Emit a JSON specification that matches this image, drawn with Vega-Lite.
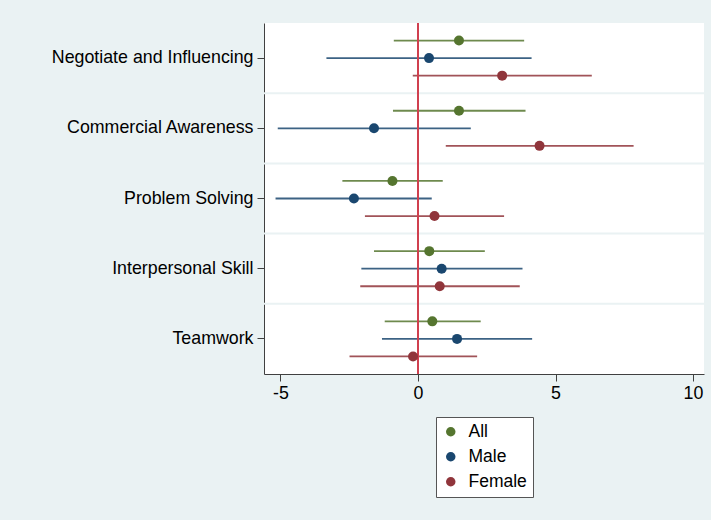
{
  "$schema": "https://vega.github.io/schema/vega-lite/v6.json",
  "autosize": {"type": "none"},
  "padding": {"left": 264, "top": 23, "right": 7, "bottom": 146},
  "width": 440,
  "height": 351,
  "background": "#eaf2f3",
  "config": {
    "view": {"fill": "white", "stroke": null},
    "font": "Liberation Sans",
    "axis": {
      "domainColor": "#404040",
      "tickColor": "#404040",
      "tickSize": 7,
      "labelFontSize": 17.8,
      "labelColor": "black",
      "labelFont": "Liberation Sans",
      "labelLimit": 300,
      "grid": false,
      "title": null
    },
    "legend": {
      "orient": "none",
      "legendX": 172,
      "legendY": 394,
      "direction": "vertical",
      "fillColor": "white",
      "strokeColor": "#555555",
      "padding": 6,
      "labelFontSize": 17.5,
      "labelColor": "black",
      "labelFont": "Liberation Sans",
      "labelOffset": 9,
      "symbolType": "circle",
      "symbolSize": 90,
      "symbolStrokeWidth": 0,
      "symbolOpacity": 1,
      "rowPadding": 6
    }
  },
  "data": {
    "values": [
      {"skill": "Negotiate and Influencing", "group": "All", "est": 1.49, "lo": -0.88, "hi": 3.86},
      {"skill": "Negotiate and Influencing", "group": "Male", "est": 0.40, "lo": -3.33, "hi": 4.13},
      {"skill": "Negotiate and Influencing", "group": "Female", "est": 3.06, "lo": -0.19, "hi": 6.32},
      {"skill": "Commercial Awareness", "group": "All", "est": 1.49, "lo": -0.91, "hi": 3.91},
      {"skill": "Commercial Awareness", "group": "Male", "est": -1.60, "lo": -5.10, "hi": 1.92},
      {"skill": "Commercial Awareness", "group": "Female", "est": 4.42, "lo": 1.01, "hi": 7.84},
      {"skill": "Problem Solving", "group": "All", "est": -0.93, "lo": -2.75, "hi": 0.90},
      {"skill": "Problem Solving", "group": "Male", "est": -2.33, "lo": -5.18, "hi": 0.50},
      {"skill": "Problem Solving", "group": "Female", "est": 0.60, "lo": -1.93, "hi": 3.13},
      {"skill": "Interpersonal Skill", "group": "All", "est": 0.41, "lo": -1.60, "hi": 2.43},
      {"skill": "Interpersonal Skill", "group": "Male", "est": 0.86, "lo": -2.06, "hi": 3.80},
      {"skill": "Interpersonal Skill", "group": "Female", "est": 0.79, "lo": -2.10, "hi": 3.70},
      {"skill": "Teamwork", "group": "All", "est": 0.52, "lo": -1.21, "hi": 2.28},
      {"skill": "Teamwork", "group": "Male", "est": 1.42, "lo": -1.31, "hi": 4.15},
      {"skill": "Teamwork", "group": "Female", "est": -0.18, "lo": -2.49, "hi": 2.15}
    ]
  },
  "layer": [
    {
      "data": {"values": [
        {"skill": "Commercial Awareness"},
        {"skill": "Problem Solving"},
        {"skill": "Interpersonal Skill"},
        {"skill": "Teamwork"}
      ]},
      "mark": {"type": "rule", "color": "#eaf2f3", "strokeWidth": 2},
      "encoding": {
        "y": {"field": "skill", "type": "nominal", "bandPosition": 0}
      }
    },
    {
      "mark": {"type": "rule", "strokeWidth": 1.8, "opacity": 0.85},
      "encoding": {
        "y": {"field": "skill", "type": "nominal"},
        "yOffset": {"field": "group", "type": "nominal", "scale": {"type": "point", "domain": ["All", "Male", "Female"], "padding": 1}},
        "x": {"field": "lo", "type": "quantitative"},
        "x2": {"field": "hi"},
        "color": {"field": "group", "type": "nominal", "scale": {"domain": ["All", "Male", "Female"], "range": ["#55752f", "#1a476f", "#90353b"]}, "legend": {"title": null}}
      }
    },
    {
      "data": {"values": [{"zero": 0}]},
      "mark": {"type": "rule", "color": "#d0404f", "strokeWidth": 2},
      "encoding": {
        "x": {"field": "zero", "type": "quantitative"}
      }
    },
    {
      "mark": {"type": "point", "filled": true, "opacity": 1, "size": 100},
      "encoding": {
        "y": {
          "field": "skill", "type": "nominal",
          "scale": {"domain": ["Negotiate and Influencing", "Commercial Awareness", "Problem Solving", "Interpersonal Skill", "Teamwork"], "paddingInner": 0, "paddingOuter": 0},
          "axis": {"labelPadding": 4}
        },
        "yOffset": {"field": "group", "type": "nominal", "scale": {"type": "point", "domain": ["All", "Male", "Female"], "padding": 1}},
        "x": {
          "field": "est", "type": "quantitative",
          "scale": {"domain": [-5.6, 10.4], "nice": false, "zero": false},
          "axis": {"values": [-5, 0, 5, 10], "labelPadding": 3, "labelExpr": "toString(datum.value)"}
        },
        "color": {
          "field": "group", "type": "nominal",
          "scale": {"domain": ["All", "Male", "Female"], "range": ["#55752f", "#1a476f", "#90353b"]},
          "legend": {"title": null}
        }
      }
    }
  ]
}
